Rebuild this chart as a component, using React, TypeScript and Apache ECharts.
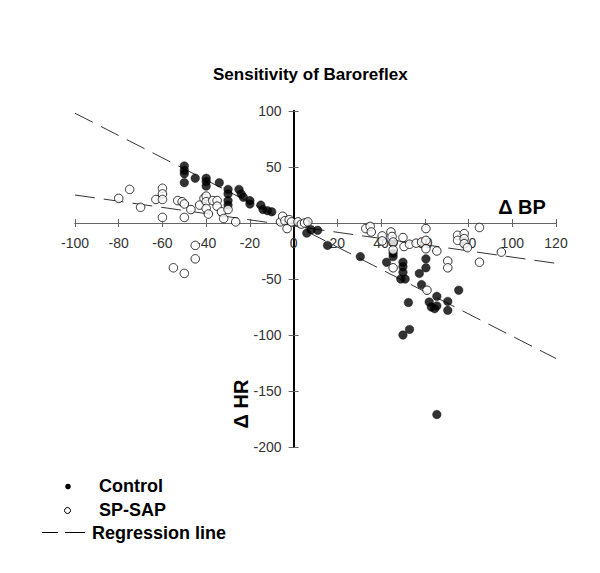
import React, { useEffect, useRef } from "react";
import * as echarts from "echarts";

const titleText = "Sensitivity of Baroreflex";
const xAxisName = "Δ BP";
const yAxisName = "Δ HR";
const legendLabels = ["Control", "SP-SAP", "Regression line"];

const xMin = -100;
const xMax = 120;
const xInterval = 20;
const yMin = -200;
const yMax = 100;
const yInterval = 50;

const controlPoints: [number, number][] = [
  [-50, 51], [-50, 47], [-50, 44], [-50, 36], [-45, 40], [-40, 40], [-40, 37], [-40, 33],
  [-34, 36], [-30, 30], [-30, 26], [-30, 20], [-30, 16], [-25, 30], [-24, 26], [-23, 23],
  [-20, 20], [-20, 17], [-15, 16], [-14, 12], [-12, 11], [-10, 10],
  [6, 0], [6, -9], [8, -6], [11, -6.5], [15.5, -20], [30.5, -30], [42.5, -35], [45.5, -18],
  [45.5, -27], [45.5, -30], [50, -35], [50, -39], [50, -44], [49, -50], [51, -50], [52.5, -71],
  [50, -100], [53, -95], [57.5, -45], [58.5, -55], [60.5, -32], [60.5, -40], [62, -70.5],
  [63, -75], [64.5, -76.5], [65.5, -74], [65.5, -65.5], [70.5, -70], [70.5, -78], [75.5, -60],
  [65.5, -171],
];

const spSapPoints: [number, number][] = [
  [-80, 22], [-75, 30], [-70, 14], [-63, 21], [-60, 31], [-60, 26], [-60, 21], [-60, 5],
  [-53, 20], [-51, 19], [-50, 17], [-50, 5], [-47, 12], [-45, -20], [-45, -32], [-55, -40],
  [-50, -45], [-43, 16], [-41, 22], [-40, 24], [-40, 19], [-40, 13], [-39, 8], [-37, 20],
  [-35, 20], [-35, 15], [-33, 10], [-32, 4], [-30, 12], [-26.5, 1], [-6, 1], [-5, 6],
  [-4, 2], [-3, -5], [-2, 3], [-1, 1], [2, 1], [3.5, -1], [5, 0], [6.5, 1],
  [33, -5], [35, -3], [35.5, -8], [40.5, -11.5], [40.5, -16], [44.5, -8], [45, -12],
  [45.5, -17], [45.5, -24], [45.5, -40], [50, -13], [50.5, -21], [53, -19], [56, -18],
  [58.5, -17], [60.5, -5], [60.5, -15.5], [60.5, -23], [65.5, -25], [70.5, -34], [70.5, -40],
  [75, -11], [75, -15.5], [78, -9.5], [78, -14], [78, -18.5], [79.5, -22], [85, -4],
  [85, -35], [95, -26], [61, -60],
];

const controlRegression: [number, number][] = [[-100, 98], [120, -121]];
const spSapRegression: [number, number][] = [[-100, 25], [120, -36]];

const FONT = '"Liberation Sans", Arial, sans-serif';

// grid geometry
const GRID_LEFT = 75;
const GRID_TOP = 111;
const GRID_W = 481;
const GRID_H = 336;

export default function App() {
  const ref = useRef<HTMLDivElement>(null);

  useEffect(() => {
    if (!ref.current) return;
    const chart = echarts.init(ref.current, undefined, { renderer: "svg" });

    const labelStyle = { color: "#333", fontSize: 14, fontFamily: FONT };

    // place axes through the origin using offsets
    const zeroY = GRID_TOP + (GRID_H * yMax) / (yMax - yMin);
    const zeroX = GRID_LEFT + (GRID_W * (0 - xMin)) / (xMax - xMin);
    const bottomOffset = zeroY - (GRID_TOP + GRID_H);
    const topOffset = GRID_TOP - zeroY;
    const leftOffset = GRID_LEFT - zeroX;
    const rightOffset = zeroX - (GRID_LEFT + GRID_W);

    const makeX = (pos: "bottom" | "top", showLabel: boolean, offset: number) => ({
      type: "value",
      position: pos,
      offset,
      min: xMin,
      max: xMax,
      interval: xInterval,
      axisLine: { show: true, onZero: false, lineStyle: { color: "#666", width: 1 } },
      axisTick: { show: true, inside: false, length: 4, lineStyle: { color: "#666", width: 1 } },
      axisLabel: { show: showLabel, margin: 13, ...labelStyle },
      splitLine: { show: false },
    });

    const makeY = (pos: "left" | "right", showLabel: boolean, offset: number) => ({
      type: "value",
      position: pos,
      offset,
      min: yMin,
      max: yMax,
      interval: yInterval,
      axisLine: { show: true, onZero: false, lineStyle: { color: "#000", width: 2 } },
      axisTick: { show: true, inside: false, length: 5, lineStyle: { color: "#666", width: 1 } },
      axisLabel: {
        show: showLabel,
        margin: 12,
        ...labelStyle,
        formatter: (v: number) => (v === 0 ? "" : String(v)),
      },
      splitLine: { show: false },
    });

    const regLine = (name: string, data: [number, number][]) => ({
      name,
      type: "line",
      data,
      symbol: "none",
      silent: true,
      lineStyle: { color: "#333", width: 1, type: [20, 9] },
      z: 1,
    });

    const legendText = (text: string, x: number, y: number) => ({
      type: "text",
      x,
      y,
      style: { text, fontSize: 18, fontWeight: "bold", fontFamily: FONT, fill: "#000", textVerticalAlign: "middle" },
    });

    chart.setOption({
      animation: false,
      backgroundColor: "#fff",
      title: {
        text: titleText,
        left: 213,
        top: 66,
        padding: 0,
        textStyle: { fontSize: 17, fontWeight: "bold", color: "#000", fontFamily: FONT },
      },
      grid: { left: GRID_LEFT, top: GRID_TOP, width: GRID_W, height: GRID_H, containLabel: false },
      xAxis: [makeX("bottom", true, bottomOffset), makeX("top", false, topOffset)],
      yAxis: [makeY("left", true, leftOffset), makeY("right", false, rightOffset)],
      series: [
        regLine("Regression line", controlRegression),
        regLine("Regression line", spSapRegression),
        {
          name: legendLabels[0],
          type: "scatter",
          data: controlPoints,
          symbol: "circle",
          symbolSize: 8.5,
          itemStyle: { color: "#000", borderColor: "#000", borderWidth: 0.5 },
          z: 3,
        },
        {
          name: legendLabels[1],
          type: "scatter",
          data: spSapPoints,
          symbol: "circle",
          symbolSize: 8.5,
          itemStyle: { color: "#fff", borderColor: "#000", borderWidth: 1 },
          z: 4,
        },
      ],
      graphic: [
        {
          type: "text",
          x: 522,
          y: 207,
          style: {
            text: xAxisName,
            fontSize: 20,
            fontWeight: "bold",
            fontFamily: FONT,
            fill: "#000",
            textAlign: "center",
            textVerticalAlign: "middle",
          },
        },
        {
          type: "text",
          x: 241,
          y: 404,
          rotation: Math.PI / 2,
          style: {
            text: yAxisName,
            fontSize: 20,
            fontWeight: "bold",
            fontFamily: FONT,
            fill: "#000",
            textAlign: "center",
            textVerticalAlign: "middle",
          },
        },
        { type: "circle", shape: { cx: 68, cy: 486.5, r: 2.8 }, style: { fill: "#000" } },
        {
          type: "circle",
          shape: { cx: 67.5, cy: 510.5, r: 3 },
          style: { fill: "#fff", stroke: "#000", lineWidth: 1 },
        },
        { type: "line", shape: { x1: 42, y1: 532.5, x2: 58, y2: 532.5 }, style: { stroke: "#000", lineWidth: 1 } },
        { type: "line", shape: { x1: 65, y1: 532.5, x2: 85, y2: 532.5 }, style: { stroke: "#000", lineWidth: 1 } },
        legendText(legendLabels[0], 99, 486),
        legendText(legendLabels[1], 99, 510),
        legendText(legendLabels[2], 92, 533),
      ],
    });

    return () => chart.dispose();
  }, []);

  return (
    <div
      ref={ref}
      style={{ position: "fixed", left: 0, top: 0, width: 600, height: 573, background: "#fff" }}
    />
  );
}
